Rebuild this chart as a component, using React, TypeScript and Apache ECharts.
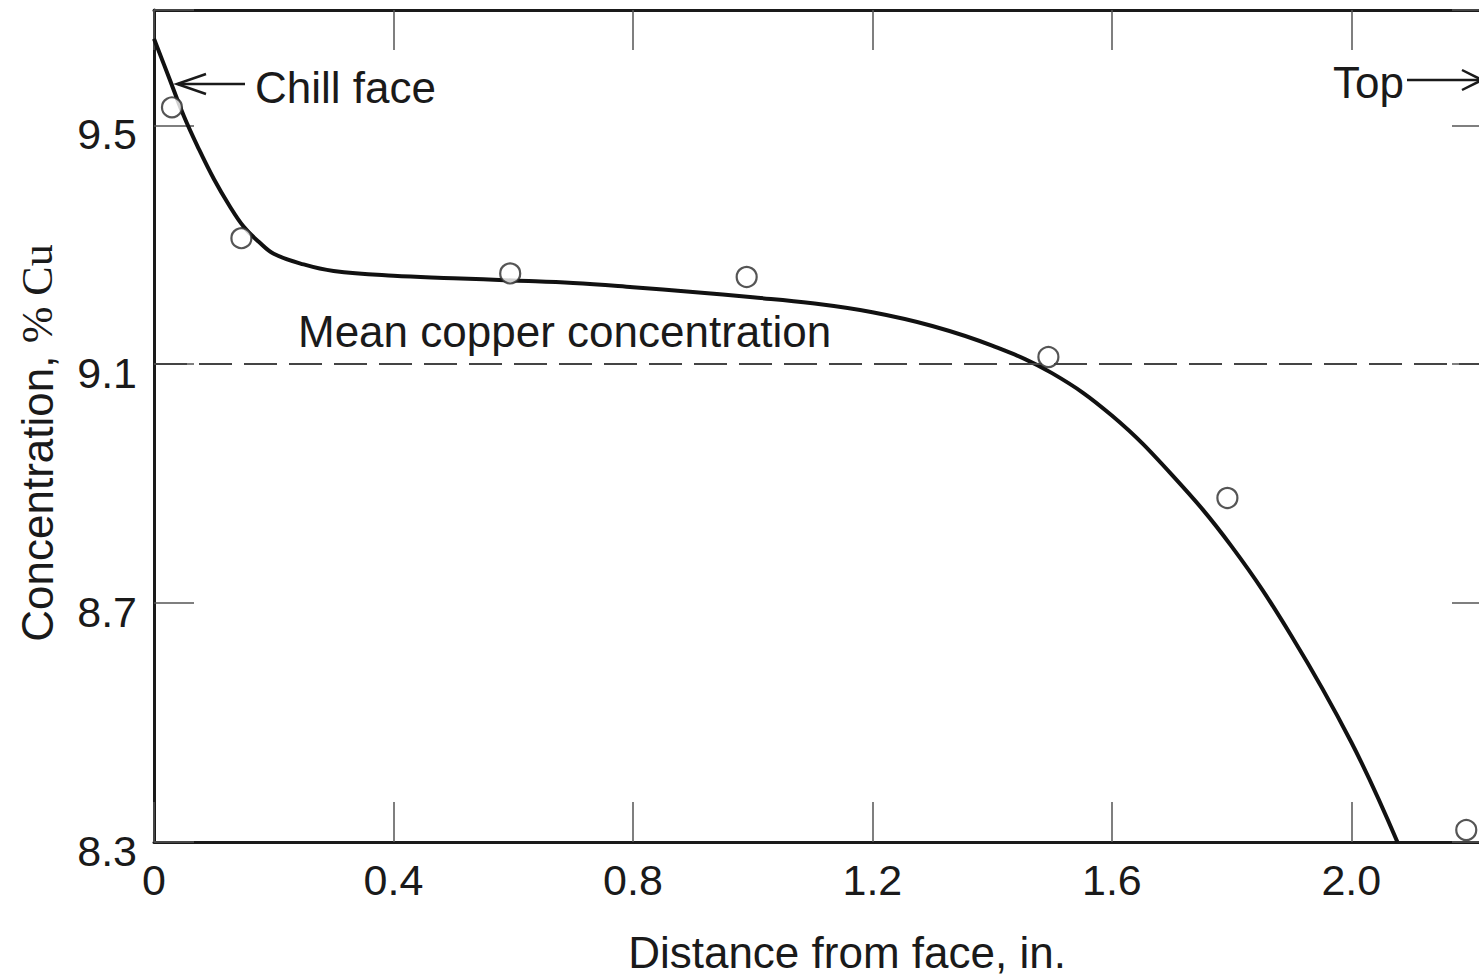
import React, { useEffect, useRef } from "react";
import * as echarts from "echarts";

// Smooth fitted curve (distance from face, in. -> % Cu)
const curveX = [0, 0.025, 0.05, 0.075, 0.1, 0.125, 0.15, 0.175, 0.2, 0.25, 0.3, 0.4, 0.5, 0.6, 0.7, 0.8, 0.9, 1.0, 1.1, 1.2, 1.3, 1.4, 1.5, 1.6, 1.7, 1.8, 1.9, 2.0, 2.077];
const curveY = [9.645, 9.58, 9.515, 9.46, 9.41, 9.367, 9.33, 9.305, 9.285, 9.267, 9.256, 9.248, 9.244, 9.24, 9.236, 9.229, 9.221, 9.212, 9.202, 9.187, 9.164, 9.131, 9.085, 9.014, 8.915, 8.795, 8.645, 8.467, 8.3];

// Measured points (open circles)
const obsX = [0.03, 0.146, 0.595, 0.99, 1.494, 1.793, 2.192];
const obsY = [9.53, 9.311, 9.252, 9.246, 9.112, 8.876, 8.32];

const meanCu = 9.1;

const xTickLabels = ["0", "0.4", "0.8", "1.2", "1.6", "2.0"];
const yTickLabels = ["8.3", "8.7", "9.1", "9.5"];

const SANS = "Liberation Sans";
const SERIF = "Liberation Serif";
const INK = "#1a1a1a";

export default function App() {
  const ref = useRef<HTMLDivElement>(null);

  useEffect(() => {
    const chart = echarts.init(ref.current!, null, { renderer: "svg" });

    const xFmt = (v: number) => {
      const s = Math.abs(v) < 1e-9 ? "0" : v.toFixed(1);
      return xTickLabels.includes(s) ? s : "";
    };
    const yFmt = (v: number) => {
      const s = v.toFixed(1);
      return yTickLabels.includes(s) ? `{v|${s}}` : "";
    };

    const axisLine = { show: true, onZero: false, lineStyle: { color: INK, width: 3 } };
    const axisTick = { show: true, inside: true, length: 40, lineStyle: { color: "#555", width: 1.5 } };

    const xBase = { type: "value", min: 0, max: 2.235, interval: 0.4, splitLine: { show: false }, axisLine, axisTick };
    const yBase = { type: "value", min: 8.3, max: 9.693, interval: 0.4, splitLine: { show: false }, axisLine, axisTick };

    chart.setOption({
      animation: false,
      backgroundColor: "#ffffff",
      grid: { left: 154, top: 10, right: 8, bottom: 135, containLabel: false },
      xAxis: [
        {
          ...xBase,
          position: "bottom",
          axisLabel: { show: true, margin: 16, fontSize: 43, fontFamily: SANS, color: INK, formatter: xFmt },
        },
        {
          ...xBase,
          position: "top",
          axisLabel: { show: false },
        },
      ],
      yAxis: [
        {
          ...yBase,
          position: "left",
          axisLabel: {
            show: true,
            margin: 17,
            formatter: yFmt,
            rich: { v: { fontSize: 43, fontFamily: SANS, color: INK, padding: [17, 0, 0, 0] } },
          },
        },
        {
          ...yBase,
          position: "right",
          axisLabel: { show: false },
        },
      ],
      series: [
        {
          type: "line",
          xAxisIndex: 0,
          yAxisIndex: 0,
          data: curveX.map((x, i) => [x, curveY[i]]),
          showSymbol: false,
          smooth: 0.4,
          smoothConstraint: false,
          lineStyle: { color: "#111", width: 4 },
          z: 2,
          markLine: {
            silent: true,
            symbol: ["none", "none"],
            label: { show: false },
            lineStyle: { type: [33, 12], color: "#444", width: 2 },
            data: [{ yAxis: meanCu }],
          },
        },
        {
          type: "scatter",
          xAxisIndex: 0,
          yAxisIndex: 0,
          data: obsX.map((x, i) => [x, obsY[i]]),
          symbol: "circle",
          symbolSize: 20,
          itemStyle: { color: "#ffffff", borderColor: "#2a2a2a", borderWidth: 2.2 },
          z: 3,
        },
      ],
      graphic: [
        {
          type: "text",
          x: 255,
          y: 87,
          style: { text: "Chill face", font: `44px "${SANS}"`, fill: INK, align: "left", verticalAlign: "middle" },
        },
        {
          type: "line",
          shape: { x1: 178, y1: 84, x2: 245, y2: 84 },
          style: { stroke: INK, lineWidth: 2.5 },
        },
        {
          type: "polyline",
          shape: { points: [[206, 74], [177, 84], [206, 94]] },
          style: { stroke: INK, lineWidth: 2.5, fill: "none" },
        },
        {
          type: "text",
          x: 1333,
          y: 82,
          style: { text: "Top", font: `44px "${SANS}"`, fill: INK, align: "left", verticalAlign: "middle" },
        },
        {
          type: "line",
          shape: { x1: 1407, y1: 80, x2: 1480, y2: 80 },
          style: { stroke: INK, lineWidth: 2.5 },
        },
        {
          type: "polyline",
          shape: { points: [[1462, 70], [1482, 80], [1462, 90]] },
          style: { stroke: INK, lineWidth: 2.5, fill: "none" },
        },
        {
          type: "text",
          x: 298,
          y: 331,
          style: { text: "Mean copper concentration", font: `44px "${SANS}"`, fill: INK, align: "left", verticalAlign: "middle" },
        },
        {
          type: "text",
          x: 847,
          y: 952,
          style: { text: "Distance from face, in.", font: `44px "${SANS}"`, fill: INK, align: "center", verticalAlign: "middle" },
        },
        {
          type: "text",
          x: 37,
          y: 443,
          rotation: Math.PI / 2,
          style: {
            text: "{a|Concentration, }{b|% Cu}",
            align: "center",
            verticalAlign: "middle",
            fill: INK,
            rich: {
              a: { fontFamily: SANS, fontSize: 44, fill: INK },
              b: { fontFamily: SERIF, fontSize: 44, fill: INK },
            },
          },
        },
      ],
    });

    return () => chart.dispose();
  }, []);

  return (
    <div style={{ position: "fixed", left: 0, top: 0, width: 1479, height: 977, overflow: "hidden", background: "#ffffff" }}>
      <div ref={ref} style={{ width: 1500, height: 977 }} />
    </div>
  );
}
